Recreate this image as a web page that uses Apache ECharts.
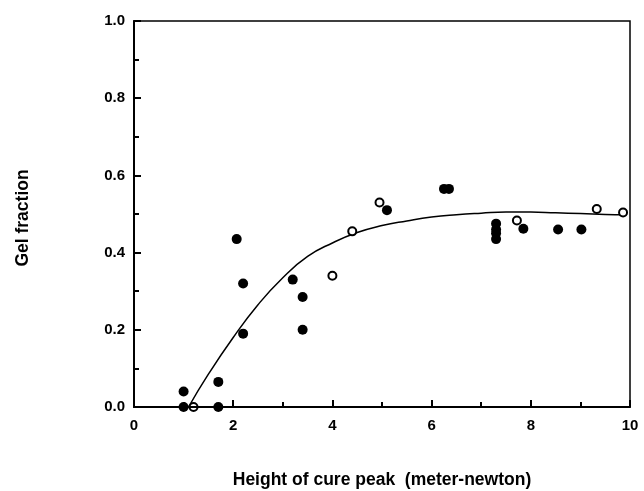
<!DOCTYPE html>
<html>
<head>
<meta charset="utf-8">
<script src="https://cdn.jsdelivr.net/npm/echarts@6/dist/echarts.min.js"></script>
<style>
html,body{margin:0;padding:0;background:#fff;}
#chart{width:644px;height:491px;}
</style>
</head>
<body>
<div id="chart"></div>
<script>
// Filled circles (x: height of cure peak, y: gel fraction)
const filledX = [1.0, 1.0, 1.7, 1.7, 2.07, 2.2, 2.2, 3.2, 3.4, 3.4, 5.1, 6.25, 6.35, 7.3, 7.3, 7.3, 7.3, 7.85, 8.55, 9.02];
const filledY = [0.04, 0.0, 0.065, 0.0, 0.435, 0.32, 0.19, 0.33, 0.285, 0.2, 0.51, 0.565, 0.565, 0.475, 0.46, 0.45, 0.435, 0.462, 0.46, 0.46];
// Open circles
const openX = [1.2, 4.0, 4.4, 4.95, 7.72, 9.33, 9.86];
const openY = [0.0, 0.34, 0.455, 0.53, 0.483, 0.513, 0.504];
// Fitted curve
const curveX = [1.1, 1.5, 2.0, 2.5, 3.0, 3.5, 4.0, 4.5, 5.0, 5.5, 6.0, 6.5, 7.0, 7.5, 8.0, 8.5, 9.0, 9.5, 9.9];
const curveY = [0.0, 0.085, 0.18, 0.265, 0.335, 0.39, 0.425, 0.452, 0.47, 0.482, 0.492, 0.498, 0.502, 0.505, 0.505, 0.503, 0.501, 0.499, 0.498];
// Axis ticks
const xTicks = [0, 2, 4, 6, 8, 10];
const yTicks = ['0.0', '0.2', '0.4', '0.6', '0.8', '1.0'];

const zip = (a, b) => a.map((v, i) => [v, b[i]]);
const font = 'Liberation Sans, Arial, sans-serif';

const chart = echarts.init(document.getElementById('chart'), null, {renderer: 'canvas'});
chart.setOption({
  animation: false,
  backgroundColor: '#fff',
  grid: {left: 134, right: 14, top: 21, bottom: 84, outerBoundsMode: 'none', containLabel: false,
    show: true, borderColor: '#000', borderWidth: 1.5, backgroundColor: 'transparent', z: 0},
  xAxis: {
    type: 'value', min: 0, max: 10, interval: 2, z: 5,
    name: 'Height of cure peak  (meter-newton)',
    nameLocation: 'middle', nameGap: 64,
    nameTextStyle: {fontFamily: font, fontWeight: 'bold', fontSize: 17.5, color: '#000'},
    axisLine: {show: true, lineStyle: {color: '#000', width: 2}},
    axisTick: {show: true, inside: true, length: 7, lineStyle: {color: '#000', width: 2}},
    minorTick: {show: true, splitNumber: 2, length: 5, lineStyle: {color: '#000', width: 2}},
    splitLine: {show: false},
    axisLabel: {fontFamily: font, fontSize: 15, fontWeight: 'bold', color: '#000', margin: 11,
      formatter: v => xTicks.includes(v) ? String(v) : ''}
  },
  yAxis: {
    type: 'value', min: 0, max: 1, interval: 0.2, z: 5,
    name: 'Gel fraction',
    nameLocation: 'middle', nameGap: 102, nameRotate: 90,
    nameTextStyle: {fontFamily: font, fontWeight: 'bold', fontSize: 17.5, color: '#000', padding: [0, 8, 0, 0]},
    axisLine: {show: true, lineStyle: {color: '#000', width: 2}},
    axisTick: {show: true, inside: true, length: 7, lineStyle: {color: '#000', width: 2}},
    minorTick: {show: true, splitNumber: 2, length: 5, lineStyle: {color: '#000', width: 2}},
    splitLine: {show: false},
    axisLabel: {fontFamily: font, fontSize: 15, fontWeight: 'bold', color: '#000', margin: 9,
      formatter: v => yTicks[Math.round(v * 5)]}
  },
  series: [
    {
      type: 'line', data: zip(curveX, curveY), smooth: true, symbol: 'none',
      lineStyle: {color: '#000', width: 1.5}, z: 2
    },
    {
      type: 'scatter', data: zip(filledX, filledY), symbol: 'circle', symbolSize: 10,
      itemStyle: {color: '#000', opacity: 1}, z: 3
    },
    {
      type: 'scatter', data: zip(openX, openY), symbol: 'circle', symbolSize: 8,
      itemStyle: {color: '#fff', borderColor: '#000', borderWidth: 2, opacity: 1}, z: 4
    }
  ]
});
</script>
</body>
</html>
